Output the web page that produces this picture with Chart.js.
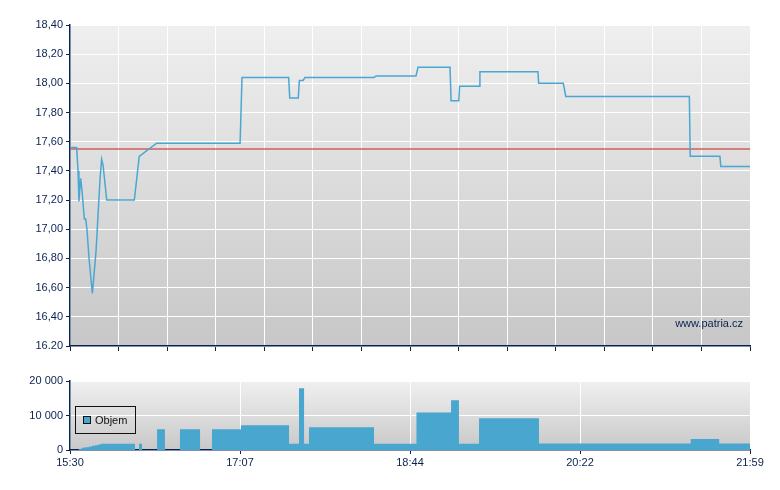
<!DOCTYPE html>
<html>
<head>
<meta charset="utf-8">
<script src="https://cdn.jsdelivr.net/npm/chart.js@4.4.0/dist/chart.umd.min.js"></script>
<style>
body{margin:0;background:#fff;}
#wrap{position:relative;width:780px;height:490px;}
canvas{position:absolute;left:0;}
</style>
</head>
<body>
<div id="wrap">
<canvas id="priceChart" width="780" height="360" style="top:0"></canvas>
<canvas id="volChart" width="780" height="130" style="top:360px"></canvas>
</div>
<script>
// minutes after 15:30
var priceTimes = [0, 3.8, 4.6, 5.1, 6.1, 6.9, 8.2, 9.0, 9.7, 10.9, 12.8, 14.9, 17.2, 18.1, 18.9, 19.7, 21.0, 36.8, 39.6, 49.6,
  97.3, 98.4, 125.1, 125.7, 130.6, 131.2, 133.3, 134.4, 173.9, 175.1, 197.9, 199.1, 217.4, 218.0, 222.4, 222.9,
  234.1, 234.5, 267.7, 268.1, 282.2, 283.6, 354.3, 354.8, 371.8, 372.3, 389];
var priceValues = [17.56, 17.56, 17.40, 17.19, 17.35, 17.26, 17.07, 17.07, 17.00, 16.80, 16.56, 16.85, 17.35, 17.48, 17.44, 17.35, 17.20, 17.20, 17.50, 17.59,
  17.59, 18.04, 18.04, 17.90, 17.90, 18.02, 18.02, 18.04, 18.04, 18.05, 18.05, 18.11, 18.11, 17.88, 17.88, 17.98,
  17.98, 18.08, 18.08, 18.00, 18.00, 17.91, 17.91, 17.50, 17.50, 17.43, 17.43];
var prevClose = 17.55;

// volume holds from each time until the next one
var volTimes = [0, 5.1, 6.3, 7.4, 9.2, 10.9, 12.6, 14.3, 16.0, 17.7, 37.2, 39.5, 41.2, 49.8, 54.3, 62.9, 74.4,
  81.2, 97.8, 125.3, 131.0, 133.9, 136.7, 173.9, 198.2, 218.0, 222.5, 234.0, 268.3, 355.1, 371.4, 389];
var volValues = [0, 300, 500, 700, 800, 1000, 1200, 1400, 1600, 1800, 0, 1800, 0, 6000, 0, 6000, 0,
  6000, 7200, 1800, 17900, 1800, 6600, 1800, 10900, 14400, 1800, 9200, 1900, 3200, 1900, 1900];

var priceTicks = ['16.20', '16,40', '16,60', '16,80', '17,00', '17,20', '17,40', '17,60', '17,80', '18,00', '18,20', '18,40'];
var volTicks = ['0', '10 000', '20 000'];
var timeTicks = ['15:30', '17:07', '18:44', '20:22', '21:59'];

var navy = '#0b2250';
var blue = '#48a6cf';

Chart.defaults.font.family = '"Liberation Sans", Arial, sans-serif';
Chart.defaults.font.size = 11;
Chart.defaults.color = navy;

var bgPlugin = {
  id: 'bg',
  beforeDraw: function(chart, args, opts) {
    var a = chart.chartArea, ctx = chart.ctx;
    var g = ctx.createLinearGradient(0, a.top, 0, a.bottom);
    g.addColorStop(0, opts.top);
    g.addColorStop(1, opts.bottom);
    ctx.save();
    ctx.fillStyle = g;
    ctx.fillRect(a.left, a.top, a.right - a.left, a.bottom - a.top);
    ctx.restore();
  }
};

var markPlugin = {
  id: 'mark',
  afterDraw: function(chart) {
    var a = chart.chartArea, ctx = chart.ctx;
    ctx.save();
    ctx.font = '11px "Liberation Sans", Arial, sans-serif';
    ctx.fillStyle = navy;
    ctx.textAlign = 'right';
    ctx.textBaseline = 'alphabetic';
    ctx.fillText('www.patria.cz', a.right - 7, a.bottom - 19);
    ctx.restore();
  }
};

var legendPlugin = {
  id: 'boxLegend',
  afterDraw: function(chart) {
    var a = chart.chartArea, ctx = chart.ctx;
    var x = a.left + 5, y = a.top + 25;
    ctx.save();
    ctx.strokeStyle = '#111';
    ctx.lineWidth = 1;
    ctx.strokeRect(x + 0.5, y + 0.5, 60, 27);
    ctx.fillStyle = blue;
    ctx.fillRect(x + 8, y + 10, 8, 8);
    ctx.strokeRect(x + 8.5, y + 10.5, 7, 7);
    ctx.fillStyle = '#111';
    ctx.font = '11px "Liberation Sans", Arial, sans-serif';
    ctx.textBaseline = 'middle';
    ctx.fillText(chart.data.datasets[0].label, x + 20, y + 14.5);
    ctx.restore();
  }
};

var pricePoints = priceTimes.map(function(t, i) { return {x: t, y: priceValues[i]}; });

new Chart(document.getElementById('priceChart'), {
  type: 'line',
  data: {
    datasets: [
      {
        label: 'Kurz',
        data: pricePoints,
        borderColor: '#4aa7d2',
        borderWidth: 1.5,
        pointRadius: 0,
        tension: 0,
        order: 1
      },
      {
        label: 'Předchozí závěr',
        data: [{x: 0, y: prevClose}, {x: 389, y: prevClose}],
        borderColor: 'rgba(205,75,75,0.65)',
        borderWidth: 2,
        pointRadius: 0,
        order: 2
      }
    ]
  },
  options: {
    responsive: false,
    animation: false,
    layout: {padding: {top: 25, right: 30, left: 0, bottom: 0}},
    plugins: {
      legend: {display: false},
      tooltip: {enabled: false},
      bg: {top: '#efefef', bottom: '#c7c7c7'}
    },
    scales: {
      x: {
        type: 'linear',
        min: 0,
        max: 389,
        ticks: {display: false, count: 15},
        grid: {color: '#ffffff', tickColor: navy, tickLength: 5},
        border: {color: navy, width: 1.5},
        afterFit: function(s) { s.height = 14; }
      },
      y: {
        min: 16.2,
        max: 18.4,
        ticks: {
          count: 12,
          autoSkip: false,
          padding: 3,
          callback: function(v, i) { return priceTicks[i]; }
        },
        grid: {color: '#ffffff', tickColor: navy, tickLength: 4},
        border: {color: navy, width: 1.5},
        afterFit: function(s) { s.width = 70; }
      }
    }
  },
  plugins: [bgPlugin, markPlugin]
});

var volPoints = volTimes.map(function(t, i) { return {x: t, y: volValues[i]}; });

new Chart(document.getElementById('volChart'), {
  type: 'line',
  data: {
    datasets: [{
      label: 'Objem',
      data: volPoints,
      stepped: true,
      fill: 'origin',
      backgroundColor: blue,
      borderWidth: 0,
      borderColor: blue,
      pointRadius: 0
    }]
  },
  options: {
    responsive: false,
    animation: false,
    layout: {padding: {top: 21, right: 30, left: 0, bottom: 0}},
    plugins: {
      legend: {display: false},
      tooltip: {enabled: false},
      bg: {top: '#f0f0f0', bottom: '#c8c8c8'}
    },
    scales: {
      x: {
        type: 'linear',
        min: 0,
        max: 389,
        ticks: {
          count: 5,
          autoSkip: false,
          maxRotation: 0,
          padding: 2,
          callback: function(v, i) { return timeTicks[i]; }
        },
        grid: {color: '#ffffff', tickColor: navy, tickLength: 4},
        border: {color: navy, width: 1.5},
        afterFit: function(s) { s.height = 40; }
      },
      y: {
        min: 0,
        max: 20000,
        ticks: {
          count: 3,
          autoSkip: false,
          padding: 3,
          callback: function(v, i) { return volTicks[i]; }
        },
        grid: {color: '#ffffff', tickColor: navy, tickLength: 4},
        border: {color: navy, width: 1.5},
        afterFit: function(s) { s.width = 70; }
      }
    }
  },
  plugins: [bgPlugin, legendPlugin]
});
</script>
</body>
</html>
